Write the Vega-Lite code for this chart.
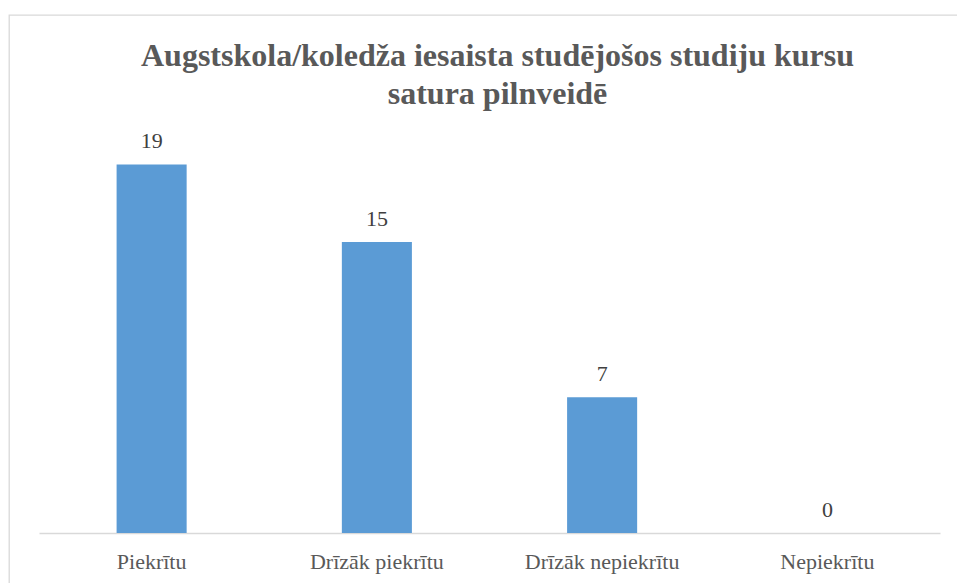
{
  "$schema": "https://vega.github.io/schema/vega-lite/v6.json",
  "width": 953,
  "height": 575,
  "autosize": {"type": "none"},
  "padding": {"left": 9, "top": 15, "right": 0, "bottom": 0},
  "background": "white",
  "config": {"view": {"stroke": "#d9d9d9", "strokeWidth": 1.3}},
  "title": {
    "text": ["Augstskola/koledža iesaista studējošos studiju kursu", "satura pilnveidē"],
    "font": "Liberation Serif",
    "fontSize": 32,
    "fontWeight": "bold",
    "color": "#595959",
    "anchor": "middle",
    "frame": "group",
    "offset": -96,
    "lineHeight": 38,
    "dx": 12
  },
  "data": {
    "values": [
      {"atbilde": "Piekrītu", "skaits": 19},
      {"atbilde": "Drīzāk piekrītu", "skaits": 15},
      {"atbilde": "Drīzāk nepiekrītu", "skaits": 7},
      {"atbilde": "Nepiekrītu", "skaits": 0}
    ]
  },
  "encoding": {
    "x": {
      "field": "atbilde",
      "type": "nominal",
      "sort": null,
      "scale": {"range": [30, 931], "paddingInner": 0.689, "paddingOuter": 0.3445},
      "axis": {
        "title": null,
        "offset": -57,
        "domainColor": "#d9d9d9",
        "domainWidth": 1.3,
        "ticks": false,
        "grid": false,
        "labelAngle": 0,
        "labelFont": "Liberation Serif",
        "labelFontSize": 22,
        "labelColor": "#595959",
        "labelPadding": 18
      }
    },
    "y": {
      "field": "skaits",
      "type": "quantitative",
      "scale": {"domain": [0, 20], "range": [518, 130]},
      "axis": null
    }
  },
  "layer": [
    {"mark": {"type": "bar", "color": "#5B9BD5"}},
    {
      "mark": {"type": "text", "baseline": "alphabetic", "dy": -16, "font": "Liberation Serif", "fontSize": 22, "color": "#404040"},
      "encoding": {"text": {"field": "skaits", "type": "quantitative"}}
    }
  ]
}
